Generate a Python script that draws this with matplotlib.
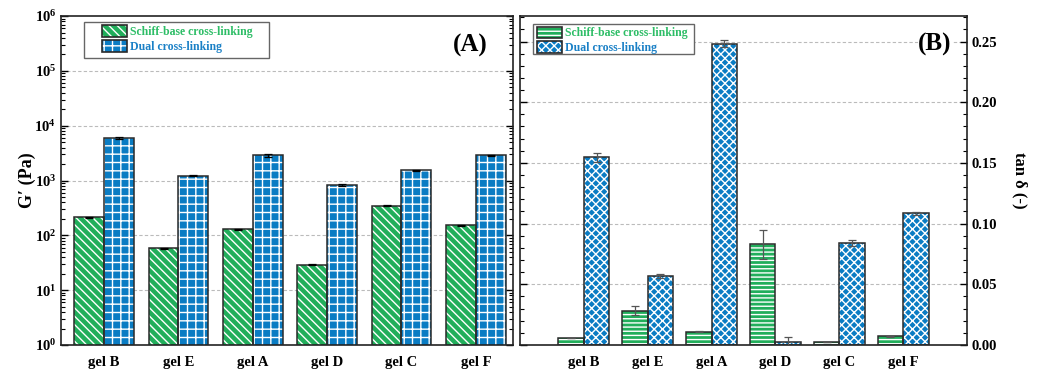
import matplotlib
matplotlib.use("Agg")
from matplotlib import pyplot as plt
from matplotlib.patches import Patch, Rectangle
from matplotlib.ticker import (FixedLocator, MultipleLocator, NullFormatter,
                               LogFormatterMathtext)
import numpy as np

plt.rcParams['font.family'] = ['Liberation Serif', 'DejaVu Serif']
plt.rcParams['font.weight'] = 'bold'
plt.rcParams['mathtext.fontset'] = 'custom'
plt.rcParams['mathtext.rm'] = 'Liberation Serif:bold'
plt.rcParams['mathtext.bf'] = 'Liberation Serif:bold'
plt.rcParams['hatch.linewidth'] = 1.0

gels = ['gel B', 'gel E', 'gel A', 'gel D', 'gel C', 'gel F']

# storage modulus G' (Pa)
g_schiff = [215, 58, 129, 29, 350, 152]
g_schiff_err = [5, 1, 3, 0.5, 8, 3]
g_dual = [5850, 1230, 2880, 840, 1540, 2880]
g_dual_err = [250, 30, 150, 40, 40, 60]

# loss tangent tan delta
t_schiff = [0.006, 0.0283, 0.0108, 0.083, 0.0025, 0.0071]
t_schiff_err = [0.0, 0.0037, 0.0004, 0.012, 0.0002, 0.0007]
t_dual = [0.1545, 0.0568, 0.2482, 0.0028, 0.0837, 0.1084]
t_dual_err = [0.004, 0.0015, 0.003, 0.0035, 0.0025, 0.0015]

green = '#21AE5B'
blue = '#0A7CC3'
green_txt = '#2DBD66'
blue_txt = '#1A80C6'
edge = '#2a2a2a'

fig = plt.figure(figsize=(10.37, 3.69), dpi=100)
axA = fig.add_axes([0.0588, 0.065, 0.4359, 0.8916])
axB = fig.add_axes([0.5014, 0.065, 0.4311, 0.8916])

x = np.arange(len(gels))
w = 0.4

hatch_a = ('\\\\\\\\', '++')
hatch_b = ('----', 'xxxx')


def hatched_bars(ax, pos, vals, err, color, hatch, ecolor):
    ax.bar(pos, vals, w, color=color, edgecolor='white', hatch=hatch, linewidth=0, zorder=2)
    ax.bar(pos, vals, w, fill=False, edgecolor=edge, linewidth=1.1, zorder=3)
    ax.errorbar(pos, vals, yerr=err, fmt='none', ecolor=ecolor, elinewidth=0.9,
                capsize=3, capthick=0.9, zorder=4)


def handle(color, hatch):
    return (Patch(facecolor=color, edgecolor='white', hatch=hatch, linewidth=0),
            Patch(fill=False, edgecolor=edge, linewidth=1.2))


def legend_box(ax, hatches, anchor, box):
    leg = ax.legend([handle(green, hatches[0]), handle(blue, hatches[1])],
                    ['Schiff-base cross-linking', 'Dual cross-linking'],
                    loc='upper left', bbox_to_anchor=anchor, fontsize=8.5,
                    handlelength=2.1, handleheight=1.15, handletextpad=0.25,
                    borderpad=0, labelspacing=0.15, frameon=False, borderaxespad=0)
    for t, c in zip(leg.get_texts(), [green_txt, blue_txt]):
        t.set_color(c)
        t.set_fontweight('bold')
    leg.set_zorder(6)
    ax.add_patch(Rectangle(box[:2], box[2], box[3], transform=ax.transAxes,
                           facecolor='white', edgecolor='#666666', lw=1.0, zorder=5))


# (A) G' on log scale
hatched_bars(axA, x - w / 2, g_schiff, g_schiff_err, green, hatch_a[0], 'black')
hatched_bars(axA, x + w / 2, g_dual, g_dual_err, blue, hatch_a[1], 'black')
axA.set_yscale('log')
axA.set_ylim(1, 1e6)
axA.set_xlim(-0.58, 5.5)
axA.yaxis.set_major_locator(FixedLocator([10.0 ** k for k in range(7)]))
axA.yaxis.set_minor_locator(FixedLocator([m * 10.0 ** k for k in range(6) for m in range(2, 10)]))
axA.yaxis.set_major_formatter(LogFormatterMathtext())
axA.yaxis.set_minor_formatter(NullFormatter())
axA.set_ylabel("G′ (Pa)", fontsize=13, fontweight='bold', labelpad=-1)
axA.text(0.905, 0.91, '(A)', transform=axA.transAxes, fontsize=18, fontweight='bold',
         ha='center', va='center')
legend_box(axA, hatch_a, (0.091, 0.972), (0.051, 0.872, 0.409, 0.110))
for tl in range(1, 6):
    axA.axhline(10 ** tl, color='#bbbbbb', ls=(0, (3, 2)), lw=0.8, zorder=1)

# (B) tan delta
hatched_bars(axB, x - w / 2, t_schiff, t_schiff_err, green, hatch_b[0], '#555555')
hatched_bars(axB, x + w / 2, t_dual, t_dual_err, blue, hatch_b[1], '#555555')
axB.set_ylim(0, 0.271)
axB.set_xlim(-1.0, 6.0)
axB.yaxis.set_major_locator(MultipleLocator(0.05))
axB.yaxis.set_minor_locator(MultipleLocator(0.01))
axB.yaxis.set_major_formatter(plt.FormatStrFormatter('%.2f'))
axB.yaxis.set_label_position('right')
axB.set_ylabel('tan δ (-)', fontsize=12, fontweight='bold', rotation=270, labelpad=22)
axB.text(0.928, 0.915, '(B)', transform=axB.transAxes, fontsize=18, fontweight='bold',
         ha='center', va='center', zorder=6,
         bbox=dict(facecolor='white', edgecolor='none', pad=0))
legend_box(axB, hatch_b, (0.038, 0.968), (0.029, 0.884, 0.360, 0.092))
for v in [0.05, 0.10, 0.15, 0.20, 0.25]:
    axB.axhline(v, color='#bbbbbb', ls=(0, (3, 2)), lw=0.8, zorder=1)

for ax in (axA, axB):
    ax.set_xticks(x)
    ax.set_xticklabels(gels, fontsize=10.5, fontweight='bold')
    ax.tick_params(axis='x', length=0, pad=8)
    ax.tick_params(axis='y', which='major', direction='in', length=5, width=1,
                   left=True, right=True, labelsize=10.5)
    ax.tick_params(axis='y', which='minor', direction='in', length=3, width=0.8,
                   left=True, right=True)
    for s in ax.spines.values():
        s.set_linewidth(1.2)
        s.set_color('#222222')
    for lab in ax.get_yticklabels():
        lab.set_fontweight('bold')

axB.tick_params(axis='y', labelleft=False, labelright=True)

fig.savefig('out.png', dpi=100)
